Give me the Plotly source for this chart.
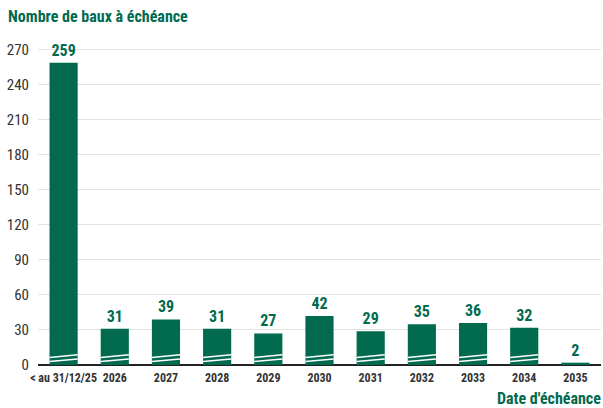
import plotly.graph_objects as go

categories = ["< au 31/12/25", "2026", "2027", "2028", "2029", "2030", "2031", "2032", "2033", "2034", "2035"]
values = [259, 31, 39, 31, 27, 42, 29, 35, 36, 32, 2]
y_ticks = [0, 30, 60, 90, 120, 150, 180, 210, 240, 270]

GREEN = "#016A4F"
FONT = "Liberation Sans Narrow, Roboto Condensed, Roboto, sans-serif"

fig = go.Figure()
fig.add_trace(go.Bar(
    x=categories, y=values,
    marker=dict(color=GREEN, line=dict(width=0)),
    text=["<b>%d</b>" % v for v in values], textposition="outside",
    textfont=dict(family=FONT, size=16, color=GREEN),
    cliponaxis=False,
))

# decorative white break stripes near bar bottoms
half = 0.275
for i, v in enumerate(values):
    if v < 10:
        continue
    for y0 in (3.0, 6.5):
        fig.add_shape(type="line", xref="x", yref="y",
                      x0=i - half, x1=i + half, y0=y0, y1=y0 + 2.2,
                      line=dict(color="white", width=1.5), layer="above")

fig.update_layout(
    width=603, height=408,
    margin=dict(l=38, r=2, t=44, b=43),
    plot_bgcolor="white", paper_bgcolor="white",
    bargap=0.45, showlegend=False,
    font=dict(family=FONT),
    xaxis=dict(type="category", showgrid=False, ticks="",
               tickvals=categories, ticktext=["<b>%s</b>" % c for c in categories],
               tickfont=dict(family=FONT, size=12, color="#333333"),
               showline=False, ticklabelstandoff=4),
    yaxis=dict(range=[0, 275], tickvals=y_ticks, showgrid=True,
               gridcolor="#e3e3e3", gridwidth=1,
               zeroline=True, zerolinecolor="#222222", zerolinewidth=1.5,
               tickfont=dict(family=FONT, size=15, color="#333333"),
               ticks="", ticklabelstandoff=8),
    annotations=[
        dict(text="<b>Nombre de baux à échéance</b>", xref="paper", yref="paper",
             x=-0.057, y=1.0, xanchor="left", yanchor="bottom", yshift=16,
             showarrow=False, font=dict(family=FONT, size=16, color=GREEN)),
        dict(text="<b>Date d'échéance</b>", xref="paper", yref="paper",
             x=1.0, y=0, xanchor="right", yanchor="top", yshift=-22, xshift=2,
             showarrow=False, font=dict(family=FONT, size=16, color=GREEN)),
    ],
)

fig.write_html("out.html")
